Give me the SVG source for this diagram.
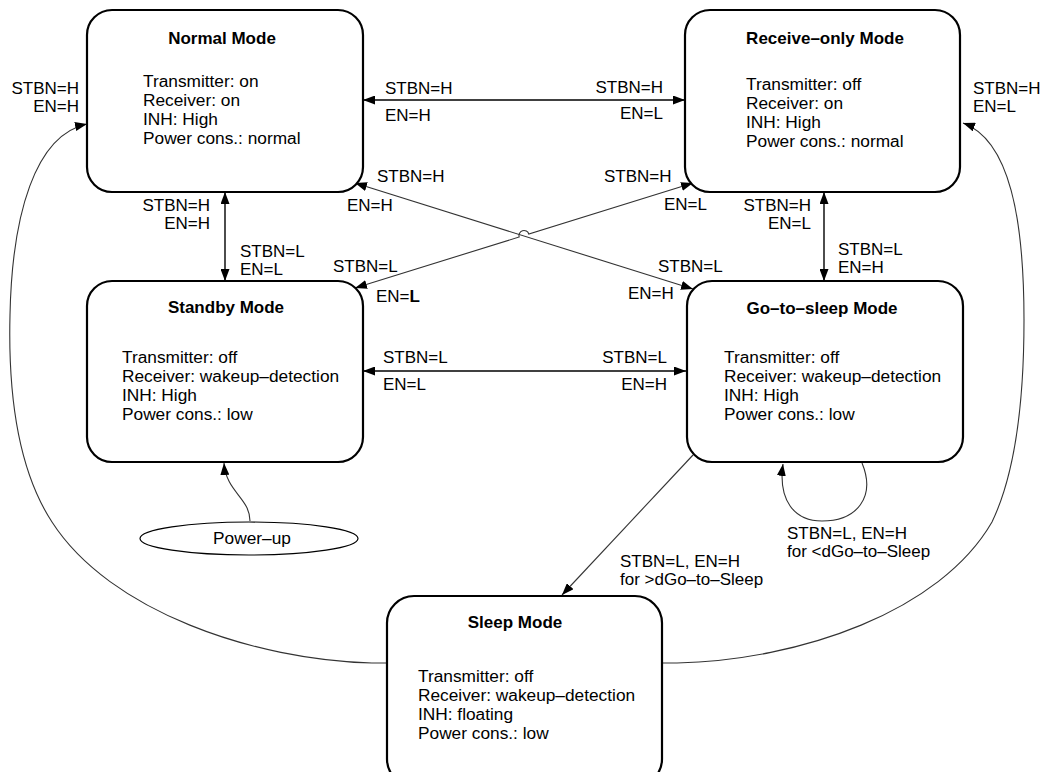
<svg xmlns="http://www.w3.org/2000/svg" width="1045" height="772" viewBox="0 0 1045 772">
  <style>
    text { font-family: "Liberation Sans", Arial, sans-serif; font-size: 17px; fill: #000; }
    .body { font-size: 17.3px; }
    .title { font-weight: bold; text-anchor: middle; }
    .end { text-anchor: end; }
    .box { fill: #fff; stroke: #000; stroke-width: 2.2; }
    .conn { fill: none; stroke: #000; stroke-width: 1.4; }
    .thin { fill: none; stroke: #333; stroke-width: 1.1; }
  </style>
  <defs>
    <marker id="arrow" viewBox="0 0 12 9" refX="12" refY="4.5" markerWidth="12" markerHeight="9" markerUnits="userSpaceOnUse" orient="auto-start-reverse">
      <path d="M0,0 L12,4.5 L0,9 z" fill="#000"/>
    </marker>
  </defs>

  <rect width="1045" height="772" fill="#fff"/>

  <!-- transitions -->
  <g id="connectors">
    <!-- Normal <-> Receive-only -->
    <line class="conn" x1="363" y1="100" x2="685" y2="100" marker-start="url(#arrow)" marker-end="url(#arrow)"/>
    <!-- Normal <-> Standby -->
    <line class="conn" x1="225" y1="192" x2="225" y2="281" marker-start="url(#arrow)" marker-end="url(#arrow)"/>
    <!-- Receive-only <-> Go-to-sleep -->
    <line class="conn" x1="824" y1="192" x2="824" y2="281" marker-start="url(#arrow)" marker-end="url(#arrow)"/>
    <!-- Standby <-> Go-to-sleep -->
    <line class="conn" x1="363" y1="371" x2="686" y2="371" marker-start="url(#arrow)" marker-end="url(#arrow)"/>
    <!-- Normal <-> Go-to-sleep (diagonal) -->
    <line class="thin" x1="355" y1="183" x2="693" y2="289" marker-start="url(#arrow)" marker-end="url(#arrow)"/>
    <!-- Standby <-> Receive-only (diagonal, hops over the other one) -->
    <path class="thin" d="M355,288 L519.2,237 A5,5 0 0 1 528.8,234 L693,183" marker-start="url(#arrow)" marker-end="url(#arrow)"/>
    <!-- Go-to-sleep -> Sleep -->
    <line class="thin" x1="693" y1="455" x2="562" y2="595" marker-end="url(#arrow)"/>
    <!-- Go-to-sleep self loop -->
    <path class="thin" d="M862,463 C876,497 857,521 822,521 C794,521 778,500 783,464" marker-end="url(#arrow)"/>
    <!-- Power-up -> Standby -->
    <path class="thin" d="M250,521 C250,498 226,492 224,463" marker-end="url(#arrow)"/>
    <!-- Sleep -> Normal -->
    <path class="thin" d="M387,663 L372,663 C255,660 110,612 52,522 C18,470 8,395 10,315 C12,215 35,135 87,124" marker-end="url(#arrow)"/>
    <!-- Sleep -> Receive-only -->
    <path class="thin" d="M662,663 L677,663 C800,660 940,612 992,522 C1016,472 1024,398 1024,320 C1024,220 1010,140 963,123" marker-end="url(#arrow)"/>

    <!-- transition labels -->
    <text class="end" x="79" y="94">STBN=H</text>
    <text class="end" x="79" y="112">EN=H</text>
    <text x="973" y="94">STBN=H</text>
    <text x="973" y="112">EN=L</text>

    <text x="385" y="94">STBN=H</text>
    <text x="385" y="121">EN=H</text>
    <text class="end" x="663" y="93">STBN=H</text>
    <text class="end" x="663" y="119">EN=L</text>

    <text class="end" x="210" y="211">STBN=H</text>
    <text class="end" x="210" y="229">EN=H</text>
    <text x="240" y="257">STBN=L</text>
    <text x="240" y="275">EN=L</text>

    <text class="end" x="811" y="211">STBN=H</text>
    <text class="end" x="811" y="229">EN=L</text>
    <text x="838" y="255">STBN=L</text>
    <text x="838" y="273">EN=H</text>

    <text x="377" y="182">STBN=H</text>
    <text x="347" y="211">EN=H</text>
    <text x="604" y="182">STBN=H</text>
    <text x="664" y="210">EN=L</text>
    <text x="333" y="272">STBN=L</text>
    <text x="376" y="302">EN=<tspan font-weight="bold">L</tspan></text>
    <text x="658" y="272">STBN=L</text>
    <text x="628" y="299">EN=H</text>

    <text x="383" y="363">STBN=L</text>
    <text x="383" y="390">EN=L</text>
    <text class="end" x="667" y="363">STBN=L</text>
    <text class="end" x="667" y="390">EN=H</text>

    <text x="620" y="567">STBN=L, EN=H</text>
    <text x="620" y="585">for &gt;dGo–to–Sleep</text>
    <text x="787" y="539">STBN=L, EN=H</text>
    <text x="787" y="557">for &lt;dGo–to–Sleep</text>
  </g>

  <g id="normal-mode">
    <rect class="box" x="87" y="10" width="276" height="182" rx="25"/>
    <text class="title" x="222" y="44">Normal Mode</text>
    <text class="body" x="143" y="87">Transmitter: on</text>
    <text class="body" x="143" y="106">Receiver: on</text>
    <text class="body" x="143" y="125">INH: High</text>
    <text class="body" x="143" y="144">Power cons.: normal</text>
  </g>

  <g id="receive-only-mode">
    <rect class="box" x="685" y="10" width="275" height="182" rx="25"/>
    <text class="title" x="825" y="44">Receive–only Mode</text>
    <text class="body" x="746" y="90">Transmitter: off</text>
    <text class="body" x="746" y="109">Receiver: on</text>
    <text class="body" x="746" y="128">INH: High</text>
    <text class="body" x="746" y="147">Power cons.: normal</text>
  </g>

  <g id="standby-mode">
    <rect class="box" x="87" y="281" width="276" height="181" rx="25"/>
    <text class="title" x="226" y="313">Standby Mode</text>
    <text class="body" x="122" y="363">Transmitter: off</text>
    <text class="body" x="122" y="382">Receiver: wakeup–detection</text>
    <text class="body" x="122" y="401">INH: High</text>
    <text class="body" x="122" y="420">Power cons.: low</text>
  </g>

  <g id="go-to-sleep-mode">
    <rect class="box" x="687" y="281" width="276" height="181" rx="25"/>
    <text class="title" x="822" y="314">Go–to–sleep Mode</text>
    <text class="body" x="724" y="363">Transmitter: off</text>
    <text class="body" x="724" y="382">Receiver: wakeup–detection</text>
    <text class="body" x="724" y="401">INH: High</text>
    <text class="body" x="724" y="420">Power cons.: low</text>
  </g>

  <g id="sleep-mode">
    <rect class="box" x="387" y="596" width="275" height="190" rx="27"/>
    <text class="title" x="515" y="628">Sleep Mode</text>
    <text class="body" x="418" y="682">Transmitter: off</text>
    <text class="body" x="418" y="701">Receiver: wakeup–detection</text>
    <text class="body" x="418" y="720">INH: floating</text>
    <text class="body" x="418" y="739">Power cons.: low</text>
  </g>

  <g id="power-up">
    <ellipse cx="249" cy="538.5" rx="109" ry="16.5" fill="#fff" stroke="#000" stroke-width="1.2"/>
    <text class="body" x="252" y="544" text-anchor="middle">Power–up</text>
  </g>
</svg>
